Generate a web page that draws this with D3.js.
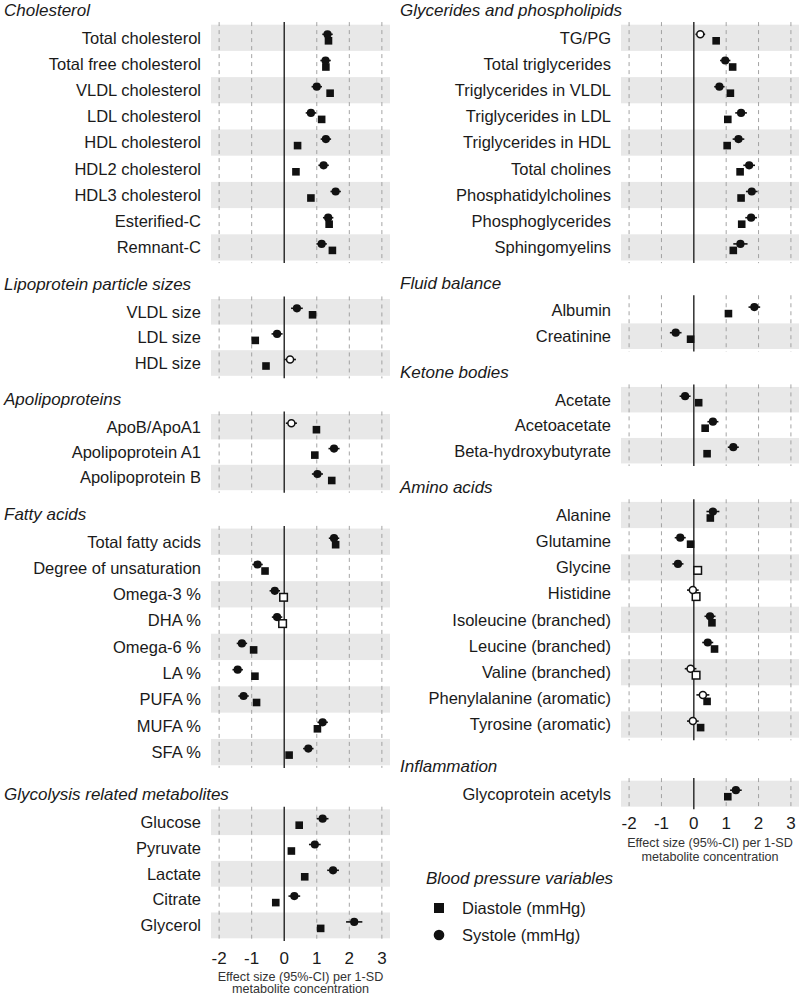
<!DOCTYPE html>
<html><head><meta charset="utf-8">
<script src="https://cdn.jsdelivr.net/npm/d3@7"></script>
<style>
body{margin:0;background:#fff}
svg{display:block}
text{font-family:"Liberation Sans",Arial,Helvetica,sans-serif}
</style>
</head><body>
<svg id="chart" width="800" height="997"></svg>
<script>
// ---------------- DATA ----------------
const xTicks = [-2, -1, 0, 1, 2, 3];
const seriesNames = ["Diastole (mmHg)", "Systole (mmHg)"];
const legendTitle = "Blood pressure variables";
const axisTitle = ["Effect size (95%-CI) per 1-SD", "metabolite concentration"];

// Cholesterol
const cholLabels = ["Total cholesterol","Total free cholesterol","VLDL cholesterol","LDL cholesterol","HDL cholesterol","HDL2 cholesterol","HDL3 cholesterol","Esterified-C","Remnant-C"];
const cholSys    = [1.33, 1.27, 1.00, 0.82, 1.28, 1.21, 1.58, 1.35, 1.15];
const cholSysLo  = [1.17, 1.11, 0.84, 0.66, 1.12, 1.05, 1.42, 1.19, 0.99];
const cholSysHi  = [1.49, 1.43, 1.16, 0.98, 1.44, 1.37, 1.74, 1.51, 1.31];
const cholDia    = [1.36, 1.28, 1.41, 1.15, 0.41, 0.36, 0.82, 1.38, 1.48];
const cholSysSig = [1,1,1,1,1,1,1,1,1];
const cholDiaSig = [1,1,1,1,1,1,1,1,1];

// Glycerides and phospholipids
const glyLabels  = ["TG/PG","Total triglycerides","Triglycerides in VLDL","Triglycerides in LDL","Triglycerides in HDL","Total cholines","Phosphatidylcholines","Phosphoglycerides","Sphingomyelins"];
const glySys     = [0.20, 0.97, 0.79, 1.46, 1.38, 1.71, 1.79, 1.77, 1.44];
const glySysLo   = [0.05, 0.81, 0.63, 1.28, 1.20, 1.53, 1.61, 1.59, 1.22];
const glySysHi   = [0.35, 1.13, 0.95, 1.64, 1.56, 1.89, 1.97, 1.95, 1.66];
const glyDia     = [0.69, 1.20, 1.13, 1.05, 1.03, 1.43, 1.46, 1.48, 1.22];
const glySysSig  = [0,1,1,1,1,1,1,1,1];
const glyDiaSig  = [1,1,1,1,1,1,1,1,1];

// Lipoprotein particle sizes
const lipLabels  = ["VLDL size","LDL size","HDL size"];
const lipSys     = [0.39, -0.22, 0.18];
const lipSysLo   = [0.21, -0.39, 0.00];
const lipSysHi   = [0.57, -0.05, 0.36];
const lipDia     = [0.87, -0.89, -0.56];
const lipSysSig  = [1,1,0];
const lipDiaSig  = [1,1,1];

// Apolipoproteins
const apoLabels  = ["ApoB/ApoA1","Apolipoprotein A1","Apolipoprotein B"];
const apoSys     = [0.22, 1.53, 1.02];
const apoSysLo   = [0.05, 1.36, 0.85];
const apoSysHi   = [0.39, 1.70, 1.19];
const apoDia     = [0.99, 0.94, 1.46];
const apoSysSig  = [0,1,1];
const apoDiaSig  = [1,1,1];

// Fatty acids
const faLabels   = ["Total fatty acids","Degree of unsaturation","Omega-3 %","DHA %","Omega-6 %","LA %","PUFA %","MUFA %","SFA %"];
const faSys      = [1.53, -0.82, -0.29, -0.22, -1.30, -1.43, -1.25, 1.18, 0.74];
const faSysLo    = [1.37, -0.98, -0.45, -0.38, -1.46, -1.59, -1.41, 1.02, 0.58];
const faSysHi    = [1.69, -0.66, -0.13, -0.06, -1.14, -1.27, -1.09, 1.34, 0.90];
const faDia      = [1.58, -0.59, -0.02, -0.05, -0.94, -0.90, -0.85, 1.02, 0.15];
const faSysSig   = [1,1,1,1,1,1,1,1,1];
const faDiaSig   = [1,1,0,0,1,1,1,1,1];

// Glycolysis related metabolites
const glcLabels  = ["Glucose","Pyruvate","Lactate","Citrate","Glycerol"];
const glcSys     = [1.18, 0.94, 1.50, 0.31, 2.15];
const glcSysLo   = [1.00, 0.76, 1.32, 0.13, 1.90];
const glcSysHi   = [1.36, 1.12, 1.68, 0.49, 2.40];
const glcDia     = [0.46, 0.22, 0.63, -0.26, 1.12];
const glcSysSig  = [1,1,1,1,1];
const glcDiaSig  = [1,1,1,1,1];

// Fluid balance
const fluLabels  = ["Albumin","Creatinine"];
const fluSys     = [1.87, -0.56];
const fluSysLo   = [1.69, -0.74];
const fluSysHi   = [2.05, -0.38];
const fluDia     = [1.07, -0.10];
const fluSysSig  = [1,1];
const fluDiaSig  = [1,1];

// Ketone bodies
const ketLabels  = ["Acetate","Acetoacetate","Beta-hydroxybutyrate"];
const ketSys     = [-0.27, 0.59, 1.22];
const ketSysLo   = [-0.44, 0.42, 1.05];
const ketSysHi   = [-0.10, 0.76, 1.39];
const ketDia     = [0.15, 0.35, 0.41];
const ketSysSig  = [1,1,1];
const ketDiaSig  = [1,1,1];

// Amino acids
const amiLabels  = ["Alanine","Glutamine","Glycine","Histidine","Isoleucine (branched)","Leucine (branched)","Valine (branched)","Phenylalanine (aromatic)","Tyrosine (aromatic)"];
const amiSys     = [0.59, -0.42, -0.49, -0.03, 0.50, 0.43, -0.10, 0.28, -0.03];
const amiSysLo   = [0.39, -0.59, -0.66, -0.21, 0.33, 0.26, -0.28, 0.08, -0.21];
const amiSysHi   = [0.79, -0.25, -0.32, 0.15, 0.67, 0.60, 0.08, 0.48, 0.15];
const amiDia     = [0.51, -0.10, 0.12, 0.07, 0.56, 0.64, 0.07, 0.41, 0.21];
const amiSysSig  = [1,1,1,0,1,1,0,0,0];
const amiDiaSig  = [1,1,0,0,1,1,0,1,1];

// Inflammation
const infLabels  = ["Glycoprotein acetyls"];
const infSys     = [1.30];
const infSysLo   = [1.12];
const infSysHi   = [1.48];
const infDia     = [1.05];
const infSysSig  = [1];
const infDiaSig  = [1];

// ---------------- LAYOUT ----------------
const panels = [
  {title:"Cholesterol", labels:cholLabels, sys:cholSys, lo:cholSysLo, hi:cholSysHi, dia:cholDia, sSig:cholSysSig, dSig:cholDiaSig, col:0, y0:37.8, step:26.2},
  {title:"Lipoprotein particle sizes", labels:lipLabels, sys:lipSys, lo:lipSysLo, hi:lipSysHi, dia:lipDia, sSig:lipSysSig, dSig:lipDiaSig, col:0, y0:311.8, step:25.6},
  {title:"Apolipoproteins", labels:apoLabels, sys:apoSys, lo:apoSysLo, hi:apoSysHi, dia:apoDia, sSig:apoSysSig, dSig:apoDiaSig, col:0, y0:426.7, step:25.4},
  {title:"Fatty acids", labels:faLabels, sys:faSys, lo:faSysLo, hi:faSysHi, dia:faDia, sSig:faSysSig, dSig:faDiaSig, col:0, y0:541.7, step:26.3},
  {title:"Glycolysis related metabolites", labels:glcLabels, sys:glcSys, lo:glcSysLo, hi:glcSysHi, dia:glcDia, sSig:glcSysSig, dSig:glcDiaSig, col:0, y0:822.2, step:25.8, axis:true},
  {title:"Glycerides and phospholipids", labels:glyLabels, sys:glySys, lo:glySysLo, hi:glySysHi, dia:glyDia, sSig:glySysSig, dSig:glyDiaSig, col:1, y0:37.8, step:26.2},
  {title:"Fluid balance", labels:fluLabels, sys:fluSys, lo:fluSysLo, hi:fluSysHi, dia:fluDia, sSig:fluSysSig, dSig:fluDiaSig, col:1, y0:310.6, step:25.6},
  {title:"Ketone bodies", labels:ketLabels, sys:ketSys, lo:ketSysLo, hi:ketSysHi, dia:ketDia, sSig:ketSysSig, dSig:ketDiaSig, col:1, y0:399.7, step:25.5},
  {title:"Amino acids", labels:amiLabels, sys:amiSys, lo:amiSysLo, hi:amiSysHi, dia:amiDia, sSig:amiSysSig, dSig:amiDiaSig, col:1, y0:515, step:26.2},
  {title:"Inflammation", labels:infLabels, sys:infSys, lo:infSysLo, hi:infSysHi, dia:infDia, sSig:infSysSig, dSig:infDiaSig, col:1, y0:793.7, step:26, axis:true}
];

const cols = [
  {x0:211, x1:390, labelX:201, titleX:4, axisBaseline:963.5, titleBase:[980.5, 993]},
  {x0:621, x1:799, labelX:611, titleX:400, axisBaseline:829, titleBase:[846.5, 861]}
];

const svg = d3.select("#chart");
const bandFill = "#e8e8e8";
const gridColor = "#9a9a9a";
const ink = "#111";

cols.forEach(c => {
  c.x = d3.scaleLinear().domain([-2.25, 3.25]).range([c.x0, c.x1]);
});

panels.forEach(p => {
  const c = cols[p.col];
  const x = c.x;
  const n = p.labels.length;
  const y = d3.scalePoint().domain(p.labels).range([p.y0, p.y0 + (n - 1) * p.step]).padding(0);
  const top = p.y0 - 0.6 * p.step;
  const bottom = p.y0 + (n - 1) * p.step + 0.6 * p.step;
  const g = svg.append("g");

  // title
  g.append("text").attr("x", c.titleX).attr("y", p.y0 - 22)
    .attr("font-size", 17).attr("font-style", "italic").attr("fill", "#1a1a1a")
    .text(p.title);

  // shaded rows (alternating from bottom)
  g.selectAll("rect.band").data(p.labels.filter((d, i) => (n - 1 - i) % 2 === 0))
    .join("rect").attr("class", "band")
    .attr("x", c.x0).attr("width", c.x1 - c.x0)
    .attr("y", d => y(d) - p.step / 2).attr("height", p.step)
    .attr("fill", bandFill);

  // dashed grid lines
  g.selectAll("line.grid").data(xTicks.filter(t => t !== 0)).join("line").attr("class", "grid")
    .attr("x1", d => x(d)).attr("x2", d => x(d))
    .attr("y1", top).attr("y2", bottom)
    .attr("stroke", gridColor).attr("stroke-width", 0.9).attr("stroke-dasharray", "4,4");

  // zero line
  g.append("line").attr("x1", x(0)).attr("x2", x(0)).attr("y1", top).attr("y2", bottom)
    .attr("stroke", "#222").attr("stroke-width", 1.4);

  // row labels
  g.selectAll("text.lab").data(p.labels).join("text").attr("class", "lab")
    .attr("x", c.labelX).attr("y", d => y(d) + 5.8)
    .attr("text-anchor", "end").attr("font-size", 16.5).attr("fill", "#1a1a1a")
    .text(d => d);

  const rows = p.labels.map((l, i) => ({l, s: p.sys[i], lo: p.lo[i], hi: p.hi[i], d: p.dia[i], ss: p.sSig[i], ds: p.dSig[i]}));

  // systole error bars
  g.selectAll("line.err").data(rows).join("line").attr("class", "err")
    .attr("x1", d => x(d.lo)).attr("x2", d => x(d.hi))
    .attr("y1", d => y(d.l) - 3.5).attr("y2", d => y(d.l) - 3.5)
    .attr("stroke", ink).attr("stroke-width", 1.6);

  // diastole squares
  const sq = 7.6;
  g.selectAll("rect.dia").data(rows).join("rect").attr("class", "dia")
    .attr("x", d => x(d.d) - sq / 2).attr("y", d => y(d.l) + 3 - sq / 2)
    .attr("width", sq).attr("height", sq)
    .attr("fill", d => d.ds ? ink : "#fff")
    .attr("stroke", ink).attr("stroke-width", d => d.ds ? 0 : 1.5);

  // systole circles
  g.selectAll("circle.sys").data(rows).join("circle").attr("class", "sys")
    .attr("cx", d => x(d.s)).attr("cy", d => y(d.l) - 3.5)
    .attr("r", d => d.ss ? 4.1 : 3.5)
    .attr("fill", d => d.ss ? ink : "#fff")
    .attr("stroke", ink).attr("stroke-width", d => d.ss ? 0 : 1.5);

  // axis
  if (p.axis) {
    const ag = g.append("g");
    ag.selectAll("text.tick").data(xTicks).join("text").attr("class", "tick")
      .attr("x", d => x(d)).attr("y", c.axisBaseline)
      .attr("text-anchor", "middle").attr("font-size", 17).attr("fill", "#1a1a1a")
      .text(d => d < 0 ? "-" + Math.abs(d) : d);
    ag.selectAll("text.atitle").data(axisTitle).join("text").attr("class", "atitle")
      .attr("x", x(0.5)).attr("y", (d, i) => c.titleBase[i])
      .attr("text-anchor", "middle").attr("font-size", 12.6).attr("fill", "#333")
      .text(d => d);
  }
});

// legend
const lg = svg.append("g");
lg.append("text").attr("x", 426).attr("y", 884).attr("font-size", 17).attr("font-style", "italic")
  .attr("fill", "#1a1a1a").text(legendTitle);
const legY = d3.scalePoint().domain(seriesNames).range([908, 935]);
lg.append("rect").attr("x", 439 - 5).attr("y", legY(seriesNames[0]) - 5).attr("width", 10).attr("height", 10).attr("fill", ink);
lg.append("circle").attr("cx", 439).attr("cy", legY(seriesNames[1])).attr("r", 5.3).attr("fill", ink);
lg.selectAll("text.li").data(seriesNames).join("text").attr("class", "li")
  .attr("x", 462).attr("y", d => legY(d) + 6).attr("font-size", 16.5).attr("fill", "#1a1a1a").text(d => d);
</script>
</body></html>
